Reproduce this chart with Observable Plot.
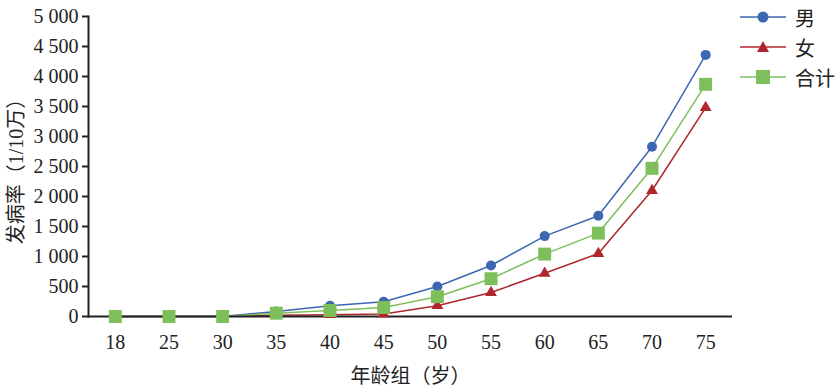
<!DOCTYPE html>
<html>
<head>
<meta charset="utf-8">
<script src="https://cdn.jsdelivr.net/npm/d3@7"></script>
<script src="https://cdn.jsdelivr.net/npm/@observablehq/plot@0.6"></script>
<style>
  body { margin: 0; background: #fff; }
  #wrap { position: relative; width: 837px; height: 389px; }
  #chart svg, #chart svg text { font-family: "Liberation Serif", "DejaVu Serif", "Noto Sans CJK SC", serif !important; }
  #legend { position: absolute; left: 738px; top: 2px; width: 99px; white-space: nowrap; font-size: 20px; font-family: "Liberation Serif", "DejaVu Serif", "Noto Sans CJK SC", serif; color: #222; }
  #legend .row { display: flex; align-items: center; height: 30px; white-space: nowrap; }
  #legend svg { margin-right: 7px; flex: none; }
</style>
</head>
<body>
<div id="wrap"><div id="chart"></div><div id="legend"></div></div>
<script>
const ages = ["18", "25", "30", "35", "40", "45", "50", "55", "60", "65", "70", "75"];
const male = [0, 0, 0, 85, 180, 245, 500, 850, 1340, 1680, 2830, 4360];
const female = [0, 0, 0, 20, 30, 40, 180, 400, 720, 1050, 2100, 3480];
const total = [0, 0, 0, 55, 100, 150, 330, 630, 1040, 1390, 2470, 3870];
const seriesNames = ["男", "女", "合计"];
const colors = ["#3d67b1", "#b0262d", "#7dbf5b"];
const symbols = ["circle", "triangle", "square"];
const yTicks = [0, 500, 1000, 1500, 2000, 2500, 3000, 3500, 4000, 4500, 5000];

const rows = [];
[male, female, total].forEach((vals, s) => {
  vals.forEach((v, i) => rows.push({age: ages[i], value: v, series: seriesNames[s]}));
});

const fmt = d => d >= 1000 ? d3.format(",")(d).replace(",", " ") : String(d);
const font = '"Liberation Serif", "DejaVu Serif", "Noto Sans CJK SC", serif';

const chart = Plot.plot({
  width: 837,
  height: 389,
  marginLeft: 88,
  marginRight: 105,
  marginTop: 16,
  marginBottom: 73,
  style: {fontFamily: font, fontSize: "20px", color: "#222", background: "#fff"},
  x: {type: "point", domain: ages, padding: 0.5, round: false},
  y: {domain: [0, 5000]},
  color: {domain: seriesNames, range: colors},
  symbol: {domain: seriesNames, range: symbols},
  marks: [
    Plot.axisY({ticks: yTicks, tickFormat: fmt, tickSize: 6, tickPadding: 4, stroke: "#222", strokeWidth: 2,
      label: "发病率（1/10万）", labelAnchor: "center", labelOffset: 80, labelArrow: "none", fontSize: 20, fontFamily: font}),
    Plot.axisX({tickSize: 0, tickPadding: 18, label: "年龄组（岁）", labelAnchor: "center", labelOffset: 66, labelArrow: "none", fontSize: 20, fontFamily: font}),
    Plot.line(rows, {x: "age", y: "value", stroke: "series", z: "series", strokeWidth: 1.5}),
    Plot.ruleY([0], {stroke: "#222", strokeWidth: 2}),
    Plot.frame({anchor: "left", stroke: "#222", strokeWidth: 2}),
    Plot.dot(rows.filter(d => d.series === "男"), {x: "age", y: "value", fill: "series", symbol: "series", r: 5}),
    Plot.dot(rows.filter(d => d.series === "女"), {x: "age", y: "value", fill: "series", symbol: "series", r: 4.4}),
    Plot.dot(rows.filter(d => d.series === "合计"), {x: "age", y: "value", fill: "series", symbol: "series", r: 7.3})
  ]
});
document.getElementById("chart").appendChild(chart);

const legend = document.getElementById("legend");
const shapes = {
  circle: c => `<circle cx="25" cy="10" r="5.5" fill="${c}"/>`,
  triangle: c => `<path d="M25,4 L31,15 L19,15 Z" fill="${c}"/>`,
  square: c => `<rect x="18" y="3" width="14" height="14" fill="${c}"/>`
};
seriesNames.forEach((name, i) => {
  const row = document.createElement("div");
  row.className = "row";
  row.innerHTML = `<svg width="50" height="20"><line x1="2" x2="48" y1="10" y2="10" stroke="${colors[i]}" stroke-width="1.5"/>${shapes[symbols[i]](colors[i])}</svg><span>${name}</span>`;
  legend.appendChild(row);
});
</script>
</body>
</html>
